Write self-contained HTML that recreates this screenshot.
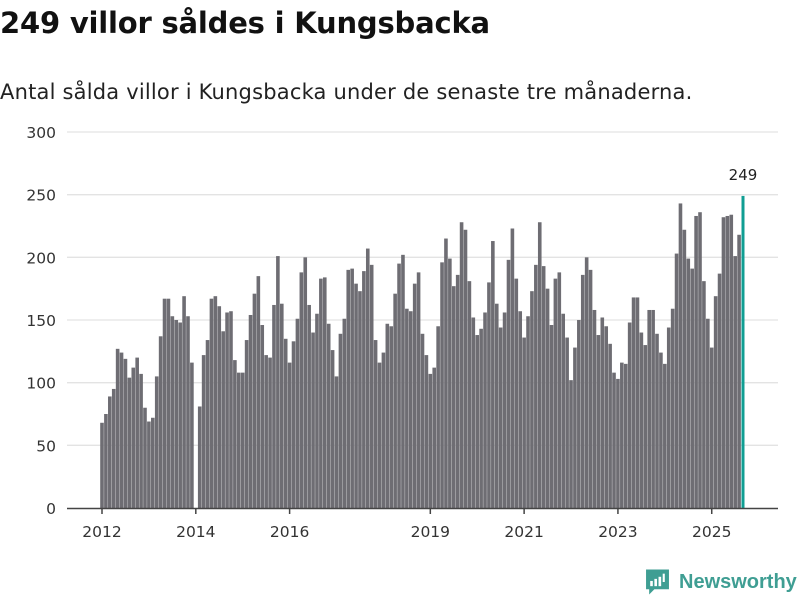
<!DOCTYPE html>
<html><head><meta charset="utf-8">
<style>
html,body{margin:0;padding:0;background:#fff;}
body{width:800px;height:600px;overflow:hidden;position:relative;font-family:"DejaVu Sans","Liberation Sans",sans-serif;color:#111;}
#title{position:absolute;left:0;top:6px;font-size:29px;font-weight:bold;margin:0;letter-spacing:-0.2px;white-space:nowrap;}
#sub{position:absolute;left:0;top:80px;font-size:21px;margin:0;color:#222;white-space:nowrap;letter-spacing:0.2px;}
svg{position:absolute;left:0;top:0;}
#logo{position:absolute;left:645px;top:568px;display:flex;align-items:center;}
#logo span{font-family:"Liberation Sans",sans-serif;font-size:20px;font-weight:bold;color:#3f9e93;margin-left:9px;}
</style></head><body>
<h1 id="title">249 villor såldes i Kungsbacka</h1>
<p id="sub">Antal sålda villor i Kungsbacka under de senaste tre månaderna.</p>
<svg id="chart" width="800" height="600"></svg>
<div id="logo">
<svg width="25" height="28" viewBox="0 0 24 26" style="position:static"><path d="M1 1h22v19H9l-5 5v-5H1z" fill="#3f9e93"/><rect x="5" y="12" width="2.5" height="5" fill="#fff"/><rect x="9" y="10" width="2.5" height="7" fill="#fff"/><rect x="13" y="8" width="2.5" height="9" fill="#fff"/><rect x="17" y="5" width="2" height="8" fill="#fff"/></svg>
<span>Newsworthy</span></div>
<script>
const values = [68,75,89,95,127,124,119,104,112,120,107,80,69,72,105,137,167,167,153,150,148,
169,153,116,null,81,122,134,167,169,161,141,156,157,118,108,108,134,154,171,185,146,
122,120,162,201,163,135,116,133,151,188,200,162,140,155,183,184,147,126,105,139,151,190,
191,179,173,189,207,194,134,116,124,147,145,171,195,202,159,157,179,188,139,122,107,112,
145,196,215,199,177,186,228,222,181,152,138,143,156,180,213,163,144,156,198,223,183,157,136,153,173,194,228,193,175,146,183,188,155,136,102,128,150,186,200,190,
158,138,152,145,131,108,103,116,115,148,168,168,140,130,158,158,139,124,115,144,159,203,243,222,199,191,233,236,181,151,128,169,187,232,233,234,201,218,249];
const yTicks = [0,50,100,150,200,250,300];
const xTickYears = [2012,2014,2016,2019,2021,2023,2025];
const startYear = 2012;

const NS="http://www.w3.org/2000/svg";
const svg=document.getElementById('chart');
const x0=102, x1=743, y0=508, y1=132;
const step=(x1-x0)/(values.length-1);
function xIdx(i){return x0+i*step;}
function xYear(yr){return xIdx((yr-startYear)*12);}
function y(v){return y0-(v/300)*(y0-y1);}
function mk(tag,attrs){const e=document.createElementNS(NS,tag);for(const k in attrs)e.setAttribute(k,attrs[k]);svg.appendChild(e);return e;}
const FF='DejaVu Sans, Liberation Sans, sans-serif';
yTicks.forEach(t=>{
  if(t>0){const g=mk('line',{x1:67,x2:778,y1:y(t),y2:y(t),stroke:'#e3e3e3','stroke-width':1.3});
  
  }
  const l=mk('text',{x:56,y:y(t)+6,'text-anchor':'end','font-size':15.5,fill:'#333','font-family':FF});
  l.textContent=t;
  
  
});
values.forEach((v,i)=>{
  if(v===null)return;
  const last=i===values.length-1;
  const w=last?3:3.6;
  const r=mk('rect',{x:xIdx(i)-w/2,y:y(v),width:w,height:y0-y(v),fill:last?'#109e93':'#6e6d73'});
  
  
  if(last){const t=mk('text',{x:xIdx(i),y:y(v)-16,'text-anchor':'middle','font-size':15,fill:'#222','font-family':FF});
    t.textContent=v;
    
    }
});
const ax=mk('line',{x1:67,x2:778,y1:y0+0.5,y2:y0+0.5,stroke:'#444','stroke-width':1.5});


xTickYears.forEach(yr=>{
  const tk=mk('line',{x1:xYear(yr),x2:xYear(yr),y1:y0,y2:y0+6,stroke:'#444','stroke-width':1.5});
  
  
  const l=mk('text',{x:xYear(yr),y:y0+29,'text-anchor':'middle','font-size':15.5,fill:'#333','font-family':FF});
  l.textContent=yr;
  
  
});
</script>
</body></html>
